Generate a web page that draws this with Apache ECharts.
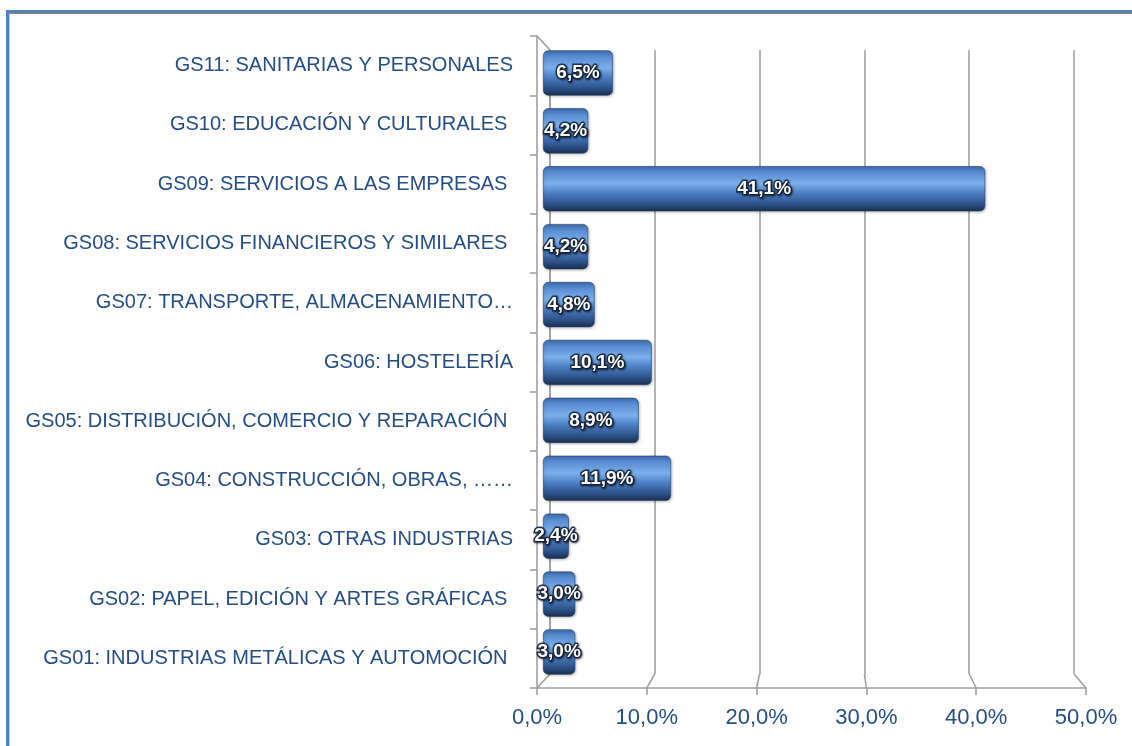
<!DOCTYPE html>
<html>
<head>
<meta charset="utf-8">
<script src="https://cdn.jsdelivr.net/npm/echarts@6/dist/echarts.min.js"></script>
<style>
  html, body { margin: 0; padding: 0; background: #fff; }
  #frame {
    position: absolute; left: 6px; top: 10px; width: 1200px; height: 800px;
    border-left: 3px solid #4f81bd; border-top: 3px solid #4f81bd;
  }
  #frame::after {
    content: ""; position: absolute; left: 0; top: 0; right: 0; bottom: 0;
    border-left: 1px solid #c8c8c8; border-top: 1px solid #8d7f62;
  }
  #chart { position: absolute; left: 0; top: 0; width: 1132px; height: 746px; }
</style>
</head>
<body>
<div id="frame"></div>
<div id="chart"></div>
<script>
// categories listed bottom to top, as the category axis draws them
const categories = [
  "GS01: INDUSTRIAS METÁLICAS Y AUTOMOCIÓN ",
  "GS02: PAPEL, EDICIÓN Y ARTES GRÁFICAS ",
  "GS03: OTRAS INDUSTRIAS",
  "GS04: CONSTRUCCIÓN, OBRAS, ……",
  "GS05: DISTRIBUCIÓN, COMERCIO Y REPARACIÓN ",
  "GS06: HOSTELERÍA",
  "GS07: TRANSPORTE, ALMACENAMIENTO…",
  "GS08: SERVICIOS FINANCIEROS Y SIMILARES ",
  "GS09: SERVICIOS A LAS EMPRESAS ",
  "GS10: EDUCACIÓN Y CULTURALES ",
  "GS11: SANITARIAS Y PERSONALES",
];
const shares = [3.0, 3.0, 2.4, 11.9, 8.9, 10.1, 4.8, 4.2, 41.1, 4.2, 6.5];
const axisMin = 0;
const axisMax = 50;
const axisStep = 10;

const textBlue = "#244d8a";
const wallGray = "#a0a0a0";
const fmt = (v) => v.toFixed(1).replace(".", ",") + "%";

// back wall, front axes, bars sit between
const back = { left: 550, top: 50, width: 524, height: 624 };
const front = { left: 537, top: 36, width: 549, height: 652 };
const bars = { left: 543, top: 44, width: 538, height: 637 };

const chart = echarts.init(document.getElementById("chart"));

const hiddenValue = (i) => ({
  gridIndex: i, type: "value", min: axisMin, max: axisMax, interval: axisStep,
  axisLine: { show: false }, axisTick: { show: false },
  axisLabel: { show: false }, splitLine: { show: false },
});
const hiddenCat = (i) => ({
  gridIndex: i, type: "category", data: categories,
  axisLine: { show: false }, axisTick: { show: false },
  axisLabel: { show: false }, splitLine: { show: false },
});

chart.setOption({
  animation: false,
  grid: [back, front, bars],
  xAxis: [
    Object.assign(hiddenValue(0), {
      splitLine: { show: true, lineStyle: { color: wallGray, width: 1.6 } },
    }),
    Object.assign(hiddenValue(1), {
      axisLine: { show: true, lineStyle: { color: wallGray, width: 1.6 } },
      axisTick: { show: true, length: 7, lineStyle: { color: wallGray, width: 1.6 } },
      axisLabel: {
        show: true, formatter: fmt, color: textBlue, margin: 19,
        fontFamily: "Liberation Sans", fontSize: 22,
      },
    }),
    hiddenValue(2),
  ],
  yAxis: [
    Object.assign(hiddenCat(0), {
      axisLine: { show: true, lineStyle: { color: wallGray, width: 1.6 } },
    }),
    Object.assign(hiddenCat(1), {
      axisLine: { show: true, lineStyle: { color: wallGray, width: 1.6 } },
      axisTick: { show: true, length: 7, lineStyle: { color: wallGray, width: 1.6 } },
      axisLabel: {
        show: true, color: textBlue, margin: 24,
        fontFamily: "Liberation Sans", fontSize: 20,
      },
    }),
    hiddenCat(2),
  ],
  series: [
    {
      type: "bar",
      xAxisIndex: 2,
      yAxisIndex: 2,
      data: shares,
      barWidth: "78%",
      itemStyle: {
        borderRadius: 5,
        borderColor: "#233f66",
        borderWidth: 0.6,
        color: {
          type: "linear", x: 0, y: 0, x2: 0, y2: 1,
          colorStops: [
            { offset: 0, color: "#3d6daf" },
            { offset: 0.15, color: "#5a8dd2" },
            { offset: 0.38, color: "#7cafec" },
            { offset: 0.6, color: "#4c7fc3" },
            { offset: 0.85, color: "#2b4f86" },
            { offset: 1, color: "#1a2e4d" },
          ],
        },
        shadowColor: "rgba(0,0,0,0.25)",
        shadowBlur: 3,
        shadowOffsetX: 1,
        shadowOffsetY: 1,
      },
      label: {
        show: true,
        position: "inside",
        formatter: (p) => fmt(p.value),
        color: "#fff",
        fontFamily: "Liberation Sans",
        fontWeight: "bold",
        fontSize: 19,
        textBorderColor: "#1c2f4d",
        textBorderWidth: 3,
        textShadowColor: "rgba(0,0,0,0.5)",
        textShadowBlur: 2,
        textShadowOffsetX: 1,
        textShadowOffsetY: 1,
      },
    },
  ],
});

// perspective edges linking the back wall to the front axes
const edges = [];
const wallBottom = back.top + back.height;
const frontBottom = front.top + front.height;
for (let v = axisMin; v <= axisMax; v += axisStep) {
  const xb = chart.convertToPixel({ xAxisIndex: 0 }, v);
  const xf = chart.convertToPixel({ xAxisIndex: 1 }, v);
  edges.push({
    type: "line", silent: true, z: 0,
    shape: { x1: xb, y1: wallBottom, x2: xf, y2: frontBottom },
    style: { stroke: wallGray, lineWidth: 1.6 },
  });
}
edges.push({
  type: "line", silent: true, z: 0,
  shape: {
    x1: chart.convertToPixel({ xAxisIndex: 1 }, axisMin), y1: front.top,
    x2: chart.convertToPixel({ xAxisIndex: 0 }, axisMin), y2: back.top,
  },
  style: { stroke: wallGray, lineWidth: 1.6 },
});
chart.setOption({ graphic: edges });
</script>
</body>
</html>
